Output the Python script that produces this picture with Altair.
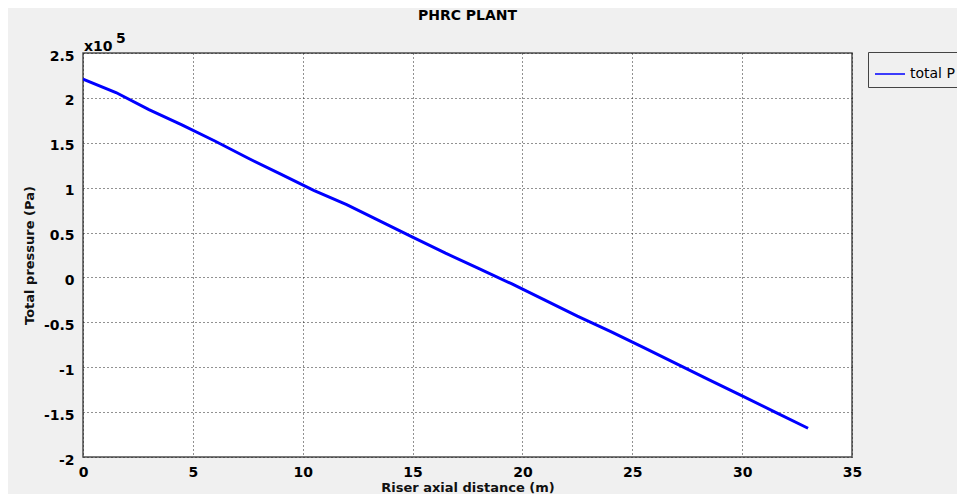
import altair as alt
import pandas as pd

# Data
distance_m = [0, 1.5, 3, 4.5, 6, 7.5, 9, 10.5, 12, 13.5, 15, 16.5, 18, 19.5,
              21, 22.5, 24, 25.5, 27, 28.5, 30, 31.5, 33]
pressure_pa = [221000, 206000, 187000, 170000, 152000, 133000, 115000, 97000,
               81000, 63000, 45000, 27000, 10000, -7000, -25000, -43000,
               -60000, -78000, -96000, -114000, -132000, -150000, -168000]
series_name = "total P"

x_ticks = [0, 5, 10, 15, 20, 25, 30, 35]
y_ticks = [-200000, -150000, -100000, -50000, 0, 50000, 100000, 150000, 200000, 250000]

df = pd.DataFrame({"x": distance_m, "p": pressure_pa, "series": series_name})
exp_df = pd.DataFrame({"t": ["x10"]})
sup_df = pd.DataFrame({"t": ["5"]})

FONT = "DejaVu Sans"

line = alt.Chart(df).mark_line(strokeWidth=3, clip=True).encode(
    x=alt.X("x:Q",
            scale=alt.Scale(domain=[0, 35], nice=False, zero=False),
            axis=alt.Axis(values=x_ticks, title="Riser axial distance (m)",
                          labelFont=FONT, labelFontSize=14, labelFontWeight="bold",
                          labelColor="black", labelPadding=8, ticks=False, domain=False,
                          grid=True, gridDash=[1, 3], gridColor="#222222", gridOpacity=1,
                          titleFont=FONT, titleFontSize=13, titleFontWeight="bold",
                          titleColor="#111111", titlePadding=2, labelFlush=False)),
    y=alt.Y("p:Q",
            scale=alt.Scale(domain=[-200000, 250000], nice=False, zero=False),
            axis=alt.Axis(values=y_ticks, title="Total pressure (Pa)",
                          labelExpr="'' + (datum.value / 100000)",
                          labelFont=FONT, labelFontSize=14, labelFontWeight="bold",
                          labelColor="black", labelPadding=9, ticks=False, domain=False,
                          labelOffset=3,
                          grid=True, gridDash=[1, 3], gridColor="#222222", gridOpacity=1,
                          titleFont=FONT, titleFontSize=13, titleFontWeight="bold",
                          titleColor="#111111", titlePadding=7)),
    color=alt.Color("series:N", scale=alt.Scale(range=["#0000ff"]),
                    legend=alt.Legend(title=None, orient="none", legendX=785, legendY=-1,
                                      strokeColor="#444444", fillColor="#f0f0f0",
                                      padding=6, symbolType="stroke", symbolSize=900,
                                      symbolStrokeWidth=1.5, labelFont=FONT,
                                      labelFontSize=14, labelFontWeight="normal",
                                      labelColor="black", labelLimit=300)),
)

exp_text = alt.Chart(exp_df).mark_text(
    align="left", baseline="alphabetic", font=FONT, fontSize=14, fontWeight="bold",
    color="black"
).encode(x=alt.value(1), y=alt.value(-2), text="t:N")

sup_text = alt.Chart(sup_df).mark_text(
    align="left", baseline="alphabetic", font=FONT, fontSize=14, fontWeight="bold",
    color="black"
).encode(x=alt.value(33), y=alt.value(-10), text="t:N")

chart = alt.layer(line, exp_text, sup_text).properties(
    width=769, height=404,
    title=alt.TitleParams("PHRC PLANT", font=FONT, fontSize=14, fontWeight="bold",
                          anchor="middle", color="black", offset=9),
    autosize=alt.AutoSizeParams(type="none"),
    padding={"left": 75, "top": 45, "right": 105, "bottom": 37},
    background="#f0f0f0",
).configure_view(fill="white", stroke="#4d4d4d", strokeWidth=1.5)

chart.save("out.html", embed_options={"renderer": "svg", "actions": False})
